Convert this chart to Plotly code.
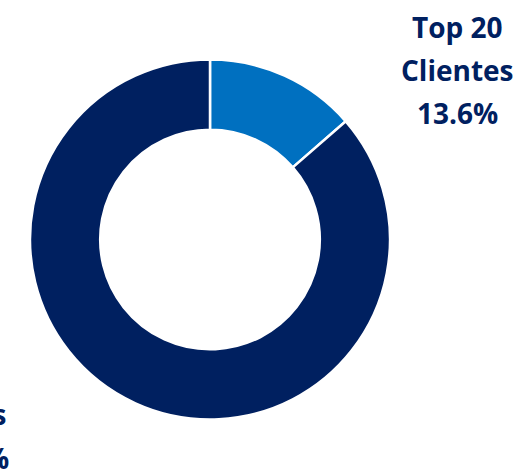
import plotly.graph_objects as go

labels = ["Top 20 Clientes", "Resto de Clientes"]
values = [13.6, 86.4]
colors = ["#0070C0", "#002060"]

W, H = 531, 474


def px_x(x):
    return x / W


def px_y(y):
    return 1 - y / H


fig = go.Figure()

fig.add_trace(go.Pie(
    labels=labels,
    values=values,
    hole=0.61,
    sort=False,
    direction='clockwise',
    rotation=0,
    marker=dict(colors=colors, line=dict(color='white', width=2.5)),
    textinfo='none',
    hoverinfo='label+percent',
    domain=dict(x=[px_x(30), px_x(390)], y=[px_y(420), px_y(59)]),
    showlegend=False,
))

label_font = dict(family="Open Sans", size=28, color="#002060", weight="bold")

# top right label (centered block)
top_lines = ["Top 20", "Clientes", f"{values[0]}%"]
for i, line in enumerate(top_lines):
    fig.add_annotation(
        text=line, x=px_x(457), y=px_y(27 + 43 * i),
        xref='paper', yref='paper', xanchor='center', yanchor='middle',
        showarrow=False, font=label_font,
    )

# bottom left label, mostly cut off by the page edge
bottom_lines = ["Resto de", "Clientes", f"{values[1]}%"]
bottom_right_edge = [-8, 9, 11]
for i, line in enumerate(bottom_lines):
    fig.add_annotation(
        text=line, x=px_x(bottom_right_edge[i]), y=px_y(370 + 44 * i),
        xref='paper', yref='paper', xanchor='right', yanchor='middle',
        showarrow=False, font=label_font,
    )

fig.update_layout(
    width=W,
    height=H,
    margin=dict(l=0, r=0, t=0, b=0),
    paper_bgcolor='white',
    plot_bgcolor='white',
)

fig.write_html("out.html", config={'displayModeBar': False},
               post_script="document.body.style.margin='0';")
